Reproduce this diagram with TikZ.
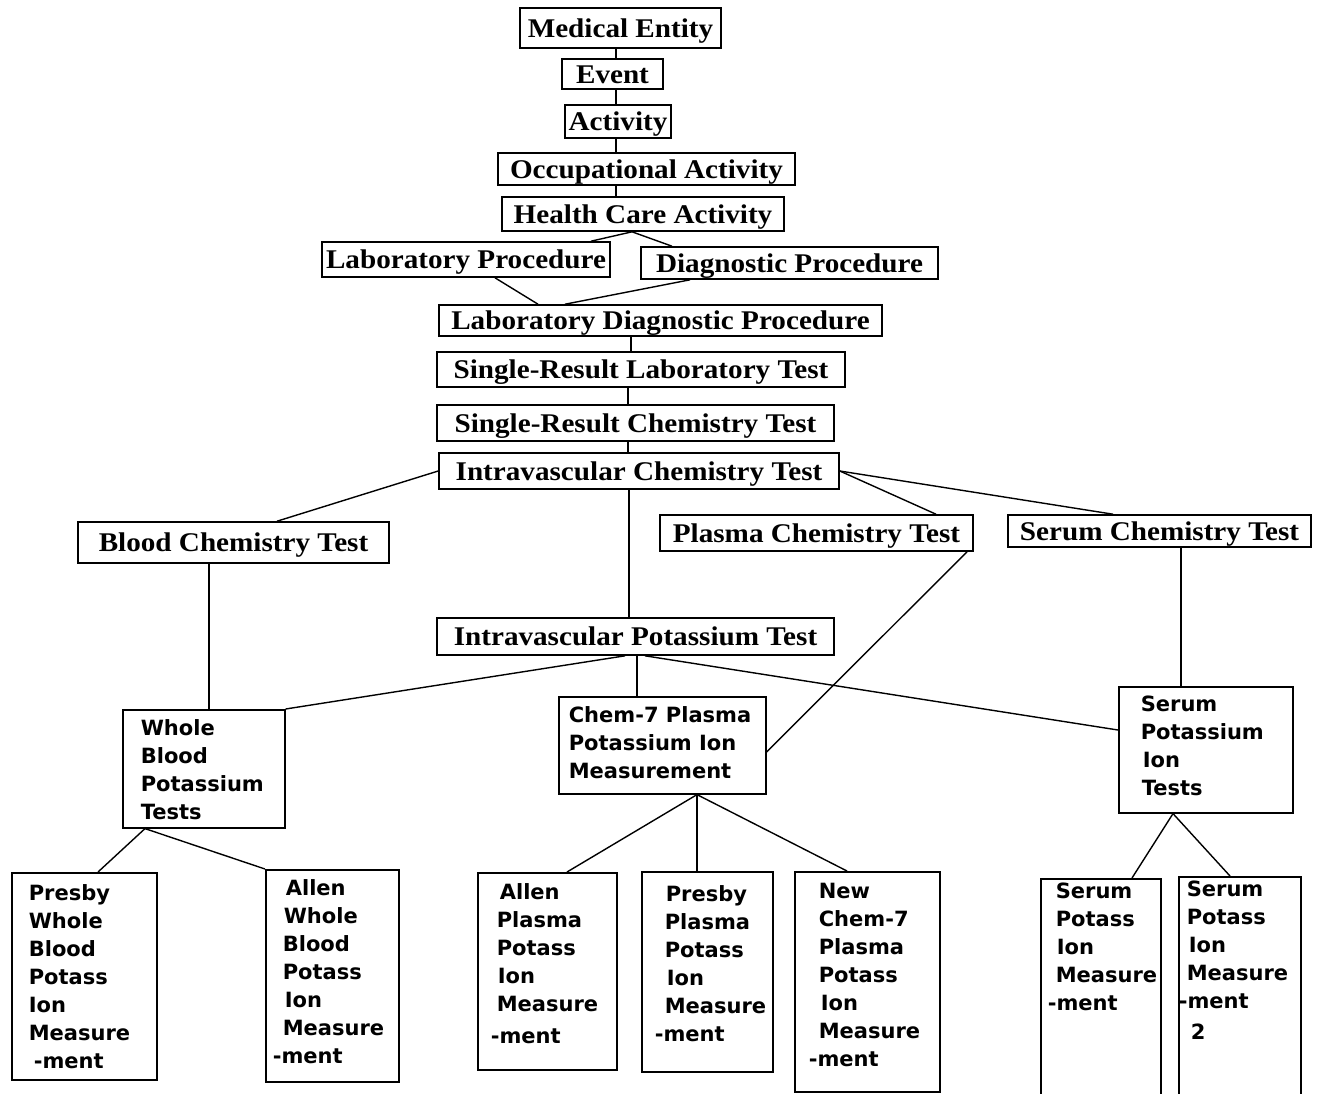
\documentclass[tikz,border=0pt]{standalone}
\usepackage{fontspec}
\newfontfamily\tsf{Liberation Serif}[FakeStretch=1.08]
\newfontfamily\csf{DejaVu Sans}
\newcommand\mline[2]{\hspace*{#1pt}\strut#2\par}
\tikzset{
  tb/.style={draw, line width=1.6pt, inner sep=0pt, text height=18pt, text depth=0pt, font=\tsf\bfseries\fontsize{27}{30}\selectfont},
  cb/.style={draw, line width=1.6pt, inner sep=0pt, font=\csf\bfseries\fontsize{21}{28}\selectfont},
  ln/.style={line width=1.4pt}
}
\newcommand\TB[6]{\node[tb, minimum width=#4pt, minimum height=#5pt] (#1) at (#2,#3) {#6};}
\newcommand\CB[7]{\node[cb, anchor=north west] (#1) at (#2,#3) {\parbox[t][#5pt][t]{#4pt}{\vspace*{#6pt}#7}};}
\begin{document}
\begin{tikzpicture}[x=1pt,y=-1pt]
\fill[white] (0,0) rectangle (1322,1093);
\useasboundingbox (0,0) rectangle (1322,1093);

% upper hierarchy (serif)
\TB{me}{620.5}{28}{201}{40}{Medical Entity}
\TB{ev}{612.5}{74}{101}{30}{Event}
\TB{act}{618}{121.5}{106}{33}{Activity}
\TB{occ}{646.5}{169}{297}{32}{Occupational Activity}
\TB{hca}{643}{214}{282}{34}{Health Care Activity}
\TB{lp}{466}{259.5}{288}{35}{Laboratory Procedure}
\TB{dp}{789.5}{263}{297}{32}{Diagnostic Procedure}
\TB{ldp}{660.5}{320.5}{443}{31}{Laboratory Diagnostic Procedure}
\TB{srlt}{641}{369.5}{408}{35}{Single-Result Laboratory Test}
\TB{srct}{635.5}{423}{397}{36}{Single-Result Chemistry Test}
\TB{ict}{639}{471}{400}{36}{Intravascular Chemistry Test}
\TB{bct}{233.5}{542.5}{311}{41}{Blood Chemistry Test}
\TB{pct}{816.5}{533}{313}{36}{Plasma Chemistry Test}
\TB{sct}{1159.5}{531}{303}{32}{Serum Chemistry Test}
\TB{ipt}{635.5}{636.5}{397}{37}{Intravascular Potassium Test}

% lower boxes (sans)
\CB{wbpt}{122}{709}{162}{118}{6}{\mline{18}{Whole}\mline{18}{Blood}\mline{18}{Potassium}\mline{18}{Tests}}
\CB{c7}{558}{696}{207}{97}{6}{\mline{10}{Chem-7 Plasma}\mline{10}{Potassium Ion}\mline{10}{Measurement}}
\CB{spit}{1118}{686}{174}{126}{5}{\mline{22}{Serum}\mline{22}{Potassium}\mline{24}{Ion}\mline{23}{Tests}}
\CB{pwb}{11}{872}{145}{207}{8}{\mline{17}{Presby}\mline{17}{Whole}\mline{17}{Blood}\mline{17}{Potass}\mline{17}{Ion}\mline{17}{Measure}\mline{22}{-ment}}
\CB{awb}{265}{869}{133}{212}{6}{\mline{20}{Allen}\mline{18}{Whole}\mline{17}{Blood}\mline{17}{Potass}\mline{19}{Ion}\mline{17}{Measure}\mline{7}{-ment}}
\CB{ap}{477}{872}{139}{197}{7}{\mline{22}{Allen}\mline{19}{Plasma}\mline{19}{Potass}\mline{20}{Ion}\mline{19}{Measure}\vspace{4pt}\mline{13}{-ment}}
\CB{pp}{641}{871}{131}{200}{10}{\mline{24}{Presby}\mline{23}{Plasma}\mline{23}{Potass}\mline{25}{Ion}\mline{23}{Measure}\mline{13}{-ment}}
\CB{nc}{794}{871}{145}{220}{7}{\mline{24}{New}\mline{24}{Chem-7}\mline{24}{Plasma}\mline{24}{Potass}\mline{26}{Ion}\mline{24}{Measure}\mline{14}{-ment}}
\CB{spim}{1040}{878}{120}{250}{0}{\mline{15}{Serum}\mline{15}{Potass}\mline{16}{Ion}\mline{15}{Measure}\mline{7}{-ment}}
\CB{spimb}{1178}{876}{122}{250}{0}{\mline{8}{Serum}\mline{8}{Potass}\mline{10}{Ion}\mline{8}{Measure}\mline{0}{-ment}\vspace{3pt}\mline{12}{2}}

% connectors
\draw[ln] (616,0 |- me.south) -- (616,0 |- ev.north);
\draw[ln] (616,0 |- ev.south) -- (616,0 |- act.north);
\draw[ln] (616,0 |- act.south) -- (616,0 |- occ.north);
\draw[ln] (616,0 |- occ.south) -- (616,0 |- hca.north);
\draw[ln] (632,0 |- hca.south) -- (591,0 |- lp.north);
\draw[ln] (632,0 |- hca.south) -- (672,0 |- dp.north);
\draw[ln] (495,0 |- lp.south) -- (538,0 |- ldp.north);
\draw[ln] (690,0 |- dp.south) -- (565,0 |- ldp.north);
\draw[ln] (631,0 |- ldp.south) -- (631,0 |- srlt.north);
\draw[ln] (628,0 |- srlt.south) -- (628,0 |- srct.north);
\draw[ln] (628,0 |- srct.south) -- (628,0 |- ict.north);
\draw[ln] (ict.west) -- (277,0 |- bct.north);
\draw[ln] (629,0 |- ict.south) -- (629,0 |- ipt.north);
\draw[ln] (ict.east) -- (936,0 |- pct.north);
\draw[ln] (ict.east) -- (1113,0 |- sct.north);
\draw[ln] (209,0 |- bct.south) -- (209,0 |- wbpt.north);
\draw[ln] (967,0 |- pct.south) -- (c7.east |- 0,752);
\draw[ln] (1181,0 |- sct.south) -- (1181,0 |- spit.north);
\draw[ln] (625,0 |- ipt.south) -- (wbpt.north east);
\draw[ln] (637,0 |- ipt.south) -- (637,0 |- c7.north);
\draw[ln] (645,0 |- ipt.south) -- (spit.west |- 0,730);
\draw[ln] (145,0 |- wbpt.south) -- (98,0 |- pwb.north);
\draw[ln] (145,0 |- wbpt.south) -- (awb.north west);
\draw[ln] (697,0 |- c7.south) -- (567,0 |- ap.north);
\draw[ln] (697,0 |- c7.south) -- (697,0 |- pp.north);
\draw[ln] (697,0 |- c7.south) -- (847,0 |- nc.north);
\draw[ln] (1173,0 |- spit.south) -- (1132,0 |- spim.north);
\draw[ln] (1173,0 |- spit.south) -- (1230,0 |- spimb.north);
\end{tikzpicture}
\end{document}
